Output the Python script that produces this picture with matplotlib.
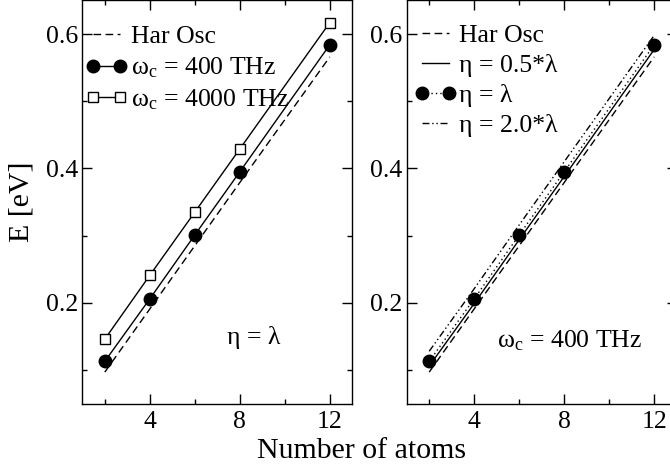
import matplotlib
matplotlib.use("Agg")
import matplotlib.pyplot as plt
from matplotlib.ticker import MultipleLocator

plt.rcParams['font.family'] = ['Liberation Serif', 'DejaVu Serif']
plt.rcParams['mathtext.fontset'] = 'custom'
plt.rcParams['mathtext.rm'] = 'Liberation Serif'
plt.rcParams['mathtext.it'] = 'Liberation Serif:italic'
plt.rcParams['mathtext.bf'] = 'Liberation Serif:bold'

# Energies (eV) versus chain length
natoms = [2, 4, 6, 8, 12]
har_osc = [0.097, 0.191, 0.285, 0.379, 0.566]
wc_400 = [0.113, 0.206, 0.301, 0.395, 0.584]
wc_4000 = [0.146, 0.241, 0.335, 0.429, 0.617]
eta_half = [0.106, 0.199, 0.294, 0.388, 0.577]
eta_one = [0.113, 0.206, 0.301, 0.395, 0.584]
eta_two = [0.128, 0.221, 0.316, 0.410, 0.598]

xticks = [4, 8, 12]
yticks = [0.2, 0.4, 0.6]
ytick_labels = ['0.2', '0.4', '0.6']

FS = 18.5
LW = 1.0
dash = (0, (5.5, 3.2))
dot = (0, (1.0, 2.2))
dashdotdot = (0, (5, 2, 1, 2, 1, 2))

fig = plt.figure(figsize=(6.7, 4.68), dpi=100)
W, H = 670, 468
ax_bottom = (H - 403.7) / H
ax_height = (403.7 - 0.4) / H
axL = fig.add_axes([82.3 / W, ax_bottom, 270 / W, ax_height])
axR = fig.add_axes([406.7 / W, ax_bottom, 270 / W, ax_height])


def style(ax):
    ax.set_xlim(1, 13)
    ax.set_ylim(0.05, 0.65)
    ax.xaxis.set_minor_locator(MultipleLocator(2))
    ax.yaxis.set_minor_locator(MultipleLocator(0.1))
    ax.set_xticks(xticks)
    ax.set_yticks(yticks)
    ax.set_yticklabels(ytick_labels)
    ax.tick_params(which='both', direction='in', top=True, right=True,
                   width=1.0, labelsize=FS)
    ax.tick_params(which='major', length=7)
    ax.tick_params(which='minor', length=3.5)
    ax.tick_params(axis='y', pad=3)
    ax.tick_params(axis='x', pad=5)
    for s in ax.spines.values():
        s.set_linewidth(1.0)


style(axL)
style(axR)

legend_kw = dict(loc='upper left', frameon=False, fontsize=FS, numpoints=2,
                 handlelength=1.65, handletextpad=0.12, borderpad=0,
                 borderaxespad=0, labelspacing=0.28)

# Left panel: cavity frequency comparison
axL.plot(natoms, har_osc, color='black', lw=LW, linestyle=dash, label='Har Osc')
axL.plot(natoms, wc_400, color='black', lw=LW, marker='o', markersize=9,
         label=r'$\mathrm{\omega_c}$ = 400 THz')
axL.plot(natoms, wc_4000, color='black', lw=LW, marker='s', markersize=7.5,
         markerfacecolor='white', markeredgecolor='black', markeredgewidth=1.0,
         label=r'$\mathrm{\omega_c}$ = 4000 THz')
axL.legend(bbox_to_anchor=(0.012, 0.938), **legend_kw)
axL.text(7.43, 0.139, 'η = λ', fontsize=FS, ha='left', va='baseline')

# Right panel: coupling strength comparison
axR.plot(natoms, har_osc, color='black', lw=LW, linestyle=dash, label='Har Osc')
axR.plot(natoms, eta_half, color='black', lw=LW, linestyle='-', label='η = 0.5*λ')
axR.plot(natoms, eta_one, color='black', lw=LW, linestyle=dot, marker='o',
         markersize=9, label='η = λ')
axR.plot(natoms, eta_two, color='black', lw=LW, linestyle=dashdotdot,
         label='η = 2.0*λ')
axR.legend(bbox_to_anchor=(0.027, 0.942), **legend_kw)
axR.text(5.0, 0.134, r'$\mathrm{\omega_c}$ = 400 THz', fontsize=FS,
         ha='left', va='baseline')

fig.text(0.54, 0.0214, 'Number of atoms', fontsize=21.5, ha='center',
         va='baseline')
fig.text(0.032, 0.568, 'E [eV]', fontsize=21.5, rotation=90, ha='center',
         va='center')

fig.savefig('out.png', dpi=100)
